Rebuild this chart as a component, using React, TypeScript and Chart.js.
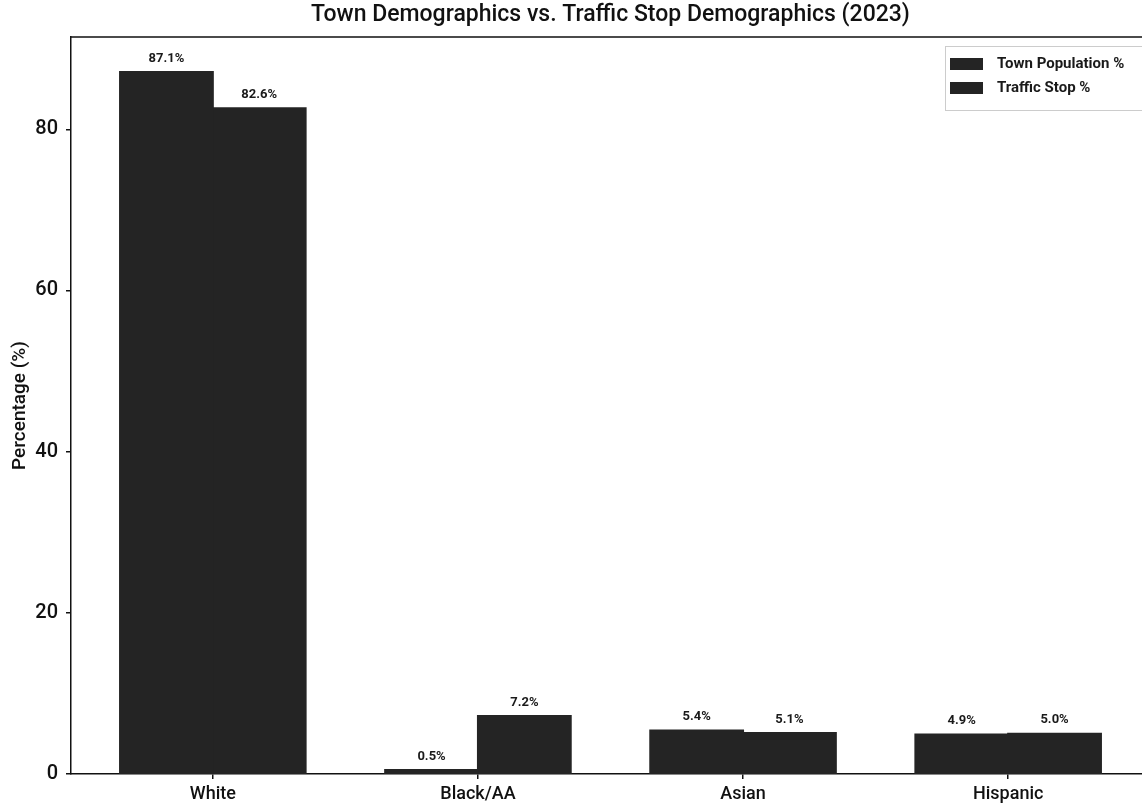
import React, { useEffect, useRef } from 'react';
import { Chart, registerables } from 'chart.js';

Chart.register(...registerables);

const categories = ['White', 'Black/AA', 'Asian', 'Hispanic'];
const townPopulation = [87.1, 0.5, 5.4, 4.9];
const trafficStops = [82.6, 7.2, 5.1, 5.0];
const seriesNames = ['Town Population %', 'Traffic Stop %'];
const yTicks = [0, 20, 40, 60, 80];
const xTicks = [0, 1, 2, 3];
const titleText = 'Town Demographics vs. Traffic Stop Demographics (2023)';

const BAR = '#242424';
const FONT = 'Roboto, Liberation Sans, Arial, sans-serif';

const frontPlugin = {
  id: 'extras',
  afterDatasetsDraw(chart: any) {
    const ctx = chart.ctx;
    ctx.save();
    ctx.fillStyle = '#1a1a1a';
    ctx.font = `bold 13px ${FONT}`;
    ctx.textAlign = 'center';
    ctx.textBaseline = 'bottom';
    chart.data.datasets.forEach((ds: any, i: number) => {
      const meta = chart.getDatasetMeta(i);
      meta.data.forEach((el: any, j: number) => {
        const v = ds.data[j].y;
        ctx.fillText(v.toFixed(1) + '%', el.x, el.y - 7);
      });
    });
    ctx.restore();
  },
  afterDraw(chart: any) {
    const ctx = chart.ctx;
    const a = chart.chartArea;
    ctx.save();
    // title centred over the plot area
    ctx.fillStyle = '#111';
    ctx.font = `500 23px ${FONT}`;
    ctx.textAlign = 'center';
    ctx.textBaseline = 'middle';
    ctx.fillText(titleText, (a.left + a.right) / 2, 15);
    // top / right spines
    ctx.strokeStyle = '#111';
    ctx.lineWidth = 1.5;
    ctx.beginPath();
    ctx.moveTo(a.left, a.top);
    ctx.lineTo(a.right, a.top);
    ctx.lineTo(a.right, a.bottom);
    ctx.stroke();
    // legend
    const lx = a.right - 205;
    const ly = a.top + 9;
    const lw = 200;
    const lh = 64;
    ctx.fillStyle = 'rgba(255,255,255,0.9)';
    ctx.fillRect(lx, ly, lw, lh);
    ctx.strokeStyle = '#cccccc';
    ctx.lineWidth = 1;
    ctx.strokeRect(lx + 0.5, ly + 0.5, lw, lh);
    ctx.font = `bold 15px ${FONT}`;
    ctx.textAlign = 'left';
    ctx.textBaseline = 'middle';
    seriesNames.forEach((name, i) => {
      const cy = ly + 18 + i * 24;
      ctx.fillStyle = BAR;
      ctx.fillRect(lx + 5, cy - 6, 33, 12);
      ctx.fillStyle = '#1a1a1a';
      ctx.fillText(name, lx + 52, cy);
    });
    ctx.restore();
  },
};

export default function App() {
  const ref = useRef<HTMLCanvasElement | null>(null);
  useEffect(() => {
    if (!ref.current) return;
    const chart = new Chart(ref.current, {
      type: 'bar',
      data: {
        datasets: [
          {
            label: seriesNames[0],
            data: townPopulation.map((y, i) => ({ x: i, y })),
            backgroundColor: BAR,
            borderWidth: 0,
            inflateAmount: 1,
          },
          {
            label: seriesNames[1],
            data: trafficStops.map((y, i) => ({ x: i, y })),
            backgroundColor: BAR,
            borderWidth: 0,
            inflateAmount: 1,
          },
        ],
      },
      options: {
        responsive: false,
        animation: false,
        devicePixelRatio: 1,
        layout: { padding: { left: 0, right: 12, top: 37, bottom: 0 } },
        datasets: { bar: { categoryPercentage: 0.7, barPercentage: 1.0 } },
        plugins: {
          legend: { display: false },
          tooltip: { enabled: false },
          title: { display: false },
        },
        scales: {
          x: {
            type: 'linear',
            offset: false,
            min: -0.535,
            max: 3.535,
            afterBuildTicks: (s: any) => {
              s.ticks = xTicks.map((v) => ({ value: v }));
            },
            afterFit: (s: any) => {
              s.height = 38;
            },
            ticks: {
              callback: (v: any) => categories[Number(v)] ?? '',
              color: '#111',
              font: { family: FONT, size: 18, weight: '500' },
              padding: 5,
              maxRotation: 0,
              autoSkip: false,
            },
            grid: { display: true, offset: false, drawOnChartArea: false, drawTicks: true, tickLength: 5, color: '#111', lineWidth: 1.5 },
            border: { display: true, color: '#111', width: 1.5 },
          },
          y: {
            min: 0,
            max: 91.455,
            afterBuildTicks: (s: any) => {
              s.ticks = yTicks.map((v) => ({ value: v }));
            },
            afterFit: (s: any) => {
              s.width = 71;
            },
            ticks: {
              color: '#111',
              font: { family: FONT, size: 20, weight: '500' },
              padding: 8,
            },
            title: {
              display: true,
              text: 'Percentage (%)',
              color: '#111',
              font: { family: FONT, size: 19, weight: '500' },
              padding: { top: 9, bottom: 0 },
            },
            grid: { display: true, drawOnChartArea: false, drawTicks: true, tickLength: 5, color: '#111', lineWidth: 1.5 },
            border: { display: true, color: '#111', width: 1.5 },
          },
        },
      },
      plugins: [frontPlugin],
    });
    return () => chart.destroy();
  }, []);
  return (
    <div style={{ position: 'fixed', left: 0, top: 0, width: 1142, height: 812, overflow: 'hidden', background: '#fff' }}>
      <canvas ref={ref} width={1162} height={812} style={{ display: 'block' }} />
    </div>
  );
}
